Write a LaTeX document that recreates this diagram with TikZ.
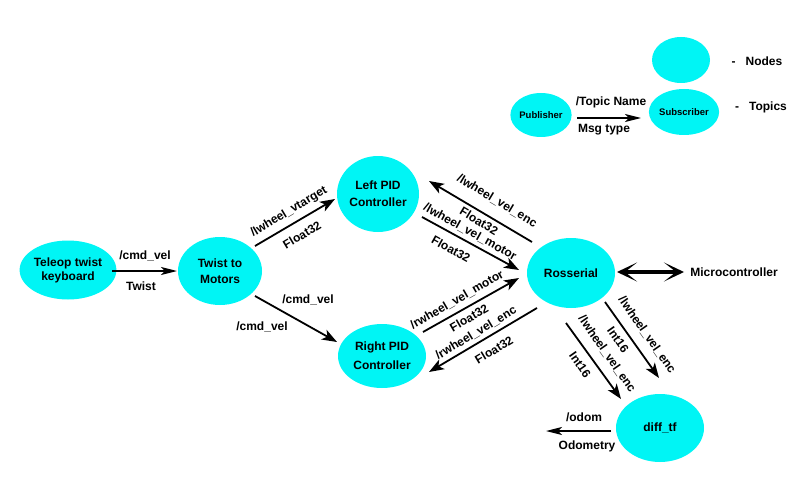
\documentclass[tikz,border=0pt]{standalone}
\usepackage{fontspec}
\setmainfont{Liberation Sans}
\usetikzlibrary{arrows.meta,shapes.geometric}
\definecolor{nodecyan}{RGB}{0,245,245}
\begin{document}
\begin{tikzpicture}[x=1pt,y=-1pt,
  rosnode/.style={ellipse, fill=nodecyan, draw=none, inner sep=0pt, align=center,
    font=\bfseries\fontsize{12}{15}\selectfont},
  smallnode/.style={ellipse, fill=nodecyan, draw=none, inner sep=0pt,
    font=\bfseries\fontsize{9.5}{11}\selectfont},
  lbl/.style={font=\bfseries\fontsize{12}{14}\selectfont, inner sep=0pt},
  conn/.style={line width=1.8pt, -{Stealth[length=15pt,width=11pt,inset=4pt]}},
  hconn/.style={line width=1.4pt, -{Stealth[length=16pt,width=8pt,inset=4pt]}},
  bigconn/.style={line width=4pt, {Stealth[length=20pt,width=19pt,inset=12pt]}-{Stealth[length=20pt,width=19pt,inset=12pt]}},
]
\useasboundingbox (0,0) rectangle (800,500);

% legend
\node[smallnode, minimum width=58, minimum height=46] (legnode) at (681,60) {};
\node[lbl] (legnodetxt) at (757,61) {-\hspace{10pt}Nodes};
\node[smallnode, minimum width=58, minimum height=44] (pub) at (541,115) {Publisher};
\node[smallnode, minimum width=60, minimum height=46] (sub) at (684,112) {Subscriber};
\node[lbl] (legtoptxt) at (761,107) {-\hspace{10pt}Topics};
\coordinate (lega) at (577,118);
\coordinate (legb) at (641,118);
\draw[hconn] (lega) -- (legb);
\node[lbl] at (611,102) {/Topic Name};
\node[lbl] at (604,130) {Msg type};

% nodes
\node[rosnode, minimum width=89, minimum height=59, font=\bfseries\fontsize{12}{14}\selectfont] (teleop) at (68,270) {Teleop twist\\keyboard};
\node[rosnode, minimum width=84, minimum height=68, font=\bfseries\fontsize{12}{16}\selectfont] (twist) at (220,271) {Twist to\\Motors};
\node[rosnode, minimum width=82, minimum height=76, font=\bfseries\fontsize{12}{17}\selectfont] (lpid) at (378,194) {Left PID\\Controller};
\node[rosnode, minimum width=88, minimum height=64, font=\bfseries\fontsize{12}{19}\selectfont] (rpid) at (382,356) {Right PID\\Controller};
\node[rosnode, minimum width=88, minimum height=70] (ross) at (571,273) {Rosserial};
\node[rosnode, minimum width=88, minimum height=68] (diff) at (660,428) {diff\_tf};
\node[lbl] (micro) at (734,272) {Microcontroller};

% connector end points
\coordinate (a1) at (112,271); \coordinate (a2) at (177,271);
\coordinate (b1) at (255,246); \coordinate (b2) at (335,199);
\coordinate (c1) at (255,296); \coordinate (c2) at (337,342);
\coordinate (d1) at (532,242); \coordinate (d2) at (429,181);
\coordinate (e1) at (422,217); \coordinate (e2) at (519,270);
\coordinate (f1) at (423,332); \coordinate (f2) at (519,278);
\coordinate (g1) at (537,308); \coordinate (g2) at (429,372);
\coordinate (h1) at (605,302); \coordinate (h2) at (659,378);
\coordinate (i1) at (566,323); \coordinate (i2) at (621,399);
\coordinate (j1) at (611,431); \coordinate (j2) at (546,431);
\coordinate (k1) at (617,272); \coordinate (k2) at (684,272);

\draw[hconn] (a1) -- (a2);
\node[lbl] at (145,256) {/cmd\_vel};
\node[lbl] at (141,286) {Twist};

\draw[conn] (b1) -- (b2);
\node[lbl, rotate=31] at (289,212) {/lwheel\_vtarget};
\node[lbl, rotate=31] at (302,235) {Float32};

\draw[conn] (c1) -- (c2);
\node[lbl] at (308,300) {/cmd\_vel};
\node[lbl] at (262,327) {/cmd\_vel};

\draw[conn] (d1) -- (d2);
\node[lbl, rotate=-31] at (497,201) {/lwheel\_vel\_enc};
\node[lbl, rotate=-31] at (479,221) {Float32};

\draw[conn] (e1) -- (e2);
\node[lbl, rotate=-29] at (470,232) {/lwheel\_vel\_motor};
\node[lbl, rotate=-29] at (451,249) {Float32};

\draw[conn] (f1) -- (f2);
\node[lbl, rotate=30] at (457,300) {/rwheel\_vel\_motor};
\node[lbl, rotate=30] at (469,318) {Float32};

\draw[conn] (g1) -- (g2);
\node[lbl, rotate=31] at (476,333) {/rwheel\_vel\_enc};
\node[lbl, rotate=31] at (494,350) {Float32};

\draw[conn] (h1) -- (h2);
\node[lbl, rotate=-55] at (647,335) {/lwheel\_vel\_enc};
\node[lbl, rotate=-55] at (618,340) {Int16};

\draw[conn] (i1) -- (i2);
\node[lbl, rotate=-55] at (607,354) {/lwheel\_vel\_enc};
\node[lbl, rotate=-55] at (580,365) {Int16};

\draw[hconn] (j1) -- (j2);
\node[lbl] at (584,417) {/odom};
\node[lbl] at (587,446) {Odometry};

\draw[bigconn] (k1) -- (k2);
\end{tikzpicture}
\end{document}
